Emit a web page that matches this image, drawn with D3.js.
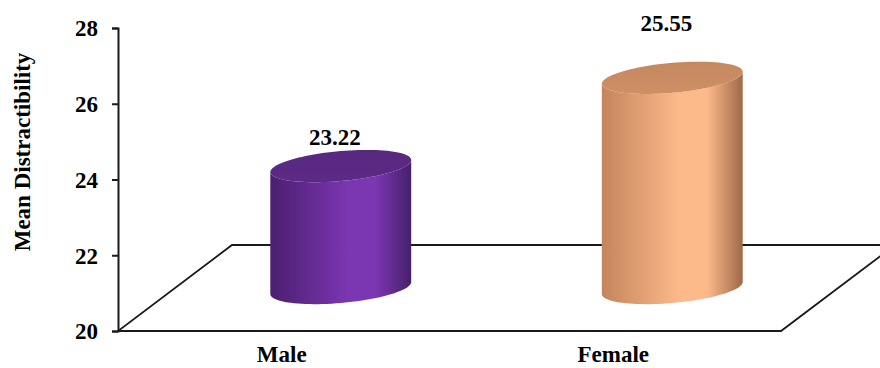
<!DOCTYPE html>
<html>
<head>
<meta charset="utf-8">
<script src="https://cdn.jsdelivr.net/npm/d3@7"></script>
<style>
  html, body { margin: 0; padding: 0; background: #fff; }
  svg { display: block; }
  text { font-family: "Liberation Serif", "Times New Roman", serif; font-weight: bold; fill: #000; }
</style>
</head>
<body>
<svg id="chart" width="880" height="368"></svg>
<script>
// Chart data
const categories = ["Male", "Female"];
const values = [23.22, 25.55];
const yTicks = [20, 22, 24, 26, 28];
const axisTitle = "Mean Distractibility";

// Cylinder palettes: dark edge, highlight, far edge, cap
const palettes = [
  { left: "#4b1f70", mid: "#7b36b1", right: "#46206a", cap: "#58287f" },
  { left: "#c4845c", mid: "#fcb98a", right: "#9e6948", cap: "#c48860" }
];

const svg = d3.select("#chart");

// Front plane of the plot and the depth offset of the 3-D floor
const plotLeft = 118, plotRight = 781, plotBottom = 331, plotTop = 28;
const depth = { dx: 114, dy: -86 };

const y = d3.scaleLinear().domain([20, 28]).range([plotBottom, plotTop]);
const x = d3.scaleBand().domain(categories).range([plotLeft, plotRight]).padding(0);

// Floor (outlined parallelogram)
const floor = [
  [plotLeft, plotBottom], [plotRight, plotBottom],
  [plotRight + depth.dx, plotBottom + depth.dy], [plotLeft + depth.dx, plotBottom + depth.dy]
];
svg.append("path")
  .attr("d", d3.line()(floor) + "Z")
  .attr("fill", "#fff")
  .attr("stroke", "#1a1a1a")
  .attr("stroke-width", 1.8)
  .attr("stroke-linejoin", "miter");

// Y axis
const yAxis = d3.axisLeft(y).tickValues(yTicks).tickSize(6).tickPadding(14).tickFormat(d3.format("d"));
const gy = svg.append("g").attr("transform", `translate(${plotLeft},0)`).call(yAxis);
gy.select(".domain").attr("stroke", "#1a1a1a").attr("stroke-width", 2);
gy.selectAll(".tick line").attr("stroke", "#1a1a1a").attr("stroke-width", 2);
gy.selectAll(".tick text")
  .attr("font-size", 23)
  .attr("font-family", "Liberation Serif, Times New Roman, serif")
  .attr("font-weight", "bold")
  .attr("fill", "#000")
  .attr("dy", "0.34em");

// Front floor edge over the axis base
svg.append("line")
  .attr("x1", plotLeft).attr("x2", plotRight).attr("y1", plotBottom).attr("y2", plotBottom)
  .attr("stroke", "#1a1a1a").attr("stroke-width", 2);

// Axis title
svg.append("text")
  .attr("transform", `translate(30,152) rotate(-90)`)
  .attr("text-anchor", "middle")
  .attr("font-size", 23)
  .text(axisTitle);

// Gradients
const defs = svg.append("defs");
palettes.forEach((p, i) => {
  const g = defs.append("linearGradient").attr("id", "body" + i)
    .attr("x1", "0%").attr("x2", "100%").attr("y1", "0%").attr("y2", "0%");
  g.append("stop").attr("offset", "0%").attr("stop-color", p.left);
  g.append("stop").attr("offset", "55%").attr("stop-color", p.mid);
  g.append("stop").attr("offset", "75%").attr("stop-color", p.mid);
  g.append("stop").attr("offset", "100%").attr("stop-color", p.right);
  const t = defs.append("linearGradient").attr("id", "cap" + i)
    .attr("x1", "0%").attr("x2", "0%").attr("y1", "0%").attr("y2", "100%");
  t.append("stop").attr("offset", "0%").attr("stop-color", p.cap);
  t.append("stop").attr("offset", "100%").attr("stop-color", d3.color(p.cap).brighter(0.15));
});

// Cylinder geometry: sheared ellipses for the oblique view
const rx = x.bandwidth() * 0.2125, ry = 15, shear = 6;
const ell = (cx, cy, th) => [cx + rx * Math.cos(th), cy + ry * Math.sin(th) - shear * Math.cos(th)];
const line = d3.line();

categories.forEach((c, i) => {
  const cx = x(c) + x.bandwidth() / 2 + depth.dx / 2;
  const yBase = y(20) + depth.dy / 2;
  const yCap = y(values[i]) + depth.dy / 2;

  // Body: bottom front arc (π → 0 through the lower half), then cap front arc back
  const bf = d3.range(49).map(k => ell(cx, yBase, Math.PI - Math.PI * k / 48));
  const tf = d3.range(49).map(k => ell(cx, yCap, Math.PI * k / 48));
  svg.append("path")
    .attr("d", line([...bf, ...tf]) + "Z")
    .attr("fill", `url(#body${i})`);

  // Cap
  const cap = d3.range(97).map(k => ell(cx, yCap, 2 * Math.PI * k / 96));
  svg.append("path")
    .attr("d", line(cap) + "Z")
    .attr("fill", `url(#cap${i})`);

  // Value label, lifted more for taller bars (perspective)
  const lift = 0.3 * (y(20) - y(values[i])) - 16;
  svg.append("text")
    .attr("x", cx - 6)
    .attr("y", yCap - lift)
    .attr("text-anchor", "middle")
    .attr("font-size", 23)
    .text(values[i].toFixed(2));

  // Category label
  svg.append("text")
    .attr("x", x(c) + x.bandwidth() / 2 - 2)
    .attr("y", 362)
    .attr("text-anchor", "middle")
    .attr("font-size", 23)
    .text(c);
});
</script>
</body>
</html>
